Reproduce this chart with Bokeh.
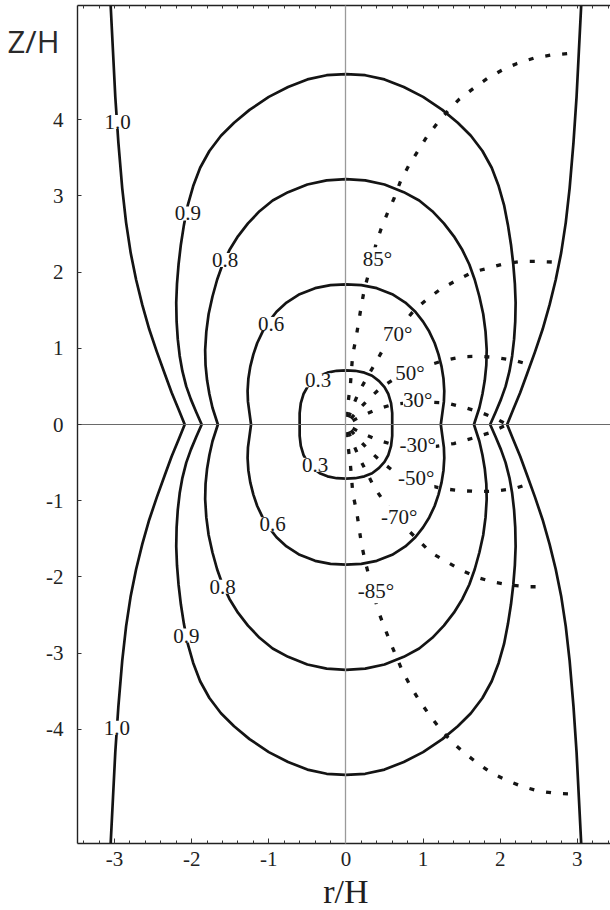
import numpy as np
from bokeh.plotting import figure
from bokeh.models import Label, LinearAxis, FixedTicker, Range1d
from bokeh.embed import file_html
from bokeh.resources import INLINE

# ---- contour data: one quadrant each (r >= 0, z >= 0), from the top (r=0) down to z=0
c03_r = [0.00, 0.12, 0.24, 0.34, 0.43, 0.50, 0.55, 0.585, 0.60, 0.60]
c03_z = [0.71, 0.705, 0.68, 0.64, 0.57, 0.49, 0.40, 0.28, 0.15, 0.00]

c06_r = [0.00, 0.20, 0.40, 0.60, 0.77, 0.90, 1.00, 1.08, 1.15, 1.20, 1.24, 1.265, 1.275, 1.27, 1.25, 1.23]
c06_z = [1.84, 1.83, 1.79, 1.71, 1.60, 1.48, 1.35, 1.22, 1.07, 0.92, 0.76, 0.60, 0.44, 0.30, 0.15, 0.00]

c08_r = [0.00, 0.25, 0.50, 0.75, 0.95, 1.12, 1.27, 1.40, 1.51, 1.60, 1.67, 1.73, 1.78, 1.81,
         1.825, 1.82, 1.80, 1.77, 1.73, 1.66]
c08_z = [3.22, 3.205, 3.15, 3.05, 2.94, 2.80, 2.64, 2.47, 2.29, 2.10, 1.90, 1.68, 1.45, 1.22,
         0.98, 0.78, 0.58, 0.40, 0.22, 0.00]

c09_r = [0.00, 0.25, 0.50, 0.75, 1.00, 1.25, 1.45, 1.62, 1.77, 1.89, 1.98, 2.05, 2.10, 2.14, 2.17,
         2.19, 2.20, 2.195, 2.18, 2.155, 2.12, 2.07, 2.01, 1.94, 1.87]
c09_z = [4.60, 4.585, 4.53, 4.43, 4.30, 4.13, 3.96, 3.79, 3.59, 3.37, 3.13, 2.88, 2.62, 2.36, 2.10,
         1.85, 1.60, 1.35, 1.12, 0.90, 0.70, 0.50, 0.33, 0.16, 0.00]

# the 1.0 level is open: it leaves through the top and bottom of the frame
c10_r = [3.05, 3.02, 2.99, 2.95, 2.90, 2.85, 2.79, 2.72, 2.64, 2.55, 2.45, 2.35, 2.26, 2.17, 2.09]
c10_z = [5.50, 4.90, 4.30, 3.70, 3.10, 2.65, 2.25, 1.90, 1.57, 1.25, 0.95, 0.67, 0.42, 0.20, 0.00]

# ---- dotted lines labelled by launch angle (right half only), starting just off the origin
a85_r = [0.009, 0.03, 0.06, 0.087, 0.13, 0.20, 0.24, 0.30, 0.39, 0.453, 0.54, 0.625, 0.71, 0.81, 0.92,
         1.045, 1.18, 1.317, 1.47, 1.65, 1.83, 2.02, 2.22, 2.44, 2.66, 2.88]
a85_z = [0.10, 0.30, 0.55, 0.91, 1.13, 1.56, 1.78, 2.00, 2.37, 2.56, 2.78, 2.97, 3.20, 3.39, 3.57,
         3.77, 3.95, 4.11, 4.27, 4.41, 4.54, 4.65, 4.74, 4.81, 4.85, 4.87]
a70_r = [0.034, 0.08, 0.17, 0.28, 0.39, 0.50, 0.62, 0.755, 0.885, 1.06, 1.23, 1.45, 1.64, 1.835, 2.05, 2.27, 2.48, 2.74]
a70_z = [0.094, 0.22, 0.43, 0.63, 0.82, 1.02, 1.19, 1.34, 1.50, 1.65, 1.78, 1.90, 2.00, 2.05, 2.11, 2.14, 2.14, 2.13]
a50_r = [0.064, 0.15, 0.30, 0.45, 0.60, 0.80, 1.08, 1.27, 1.51, 1.73, 1.94, 2.19, 2.40]
a50_z = [0.077, 0.18, 0.34, 0.48, 0.58, 0.68, 0.78, 0.84, 0.89, 0.895, 0.88, 0.84, 0.78]
a30_r = [0.087, 0.20, 0.40, 0.60, 0.85, 1.14, 1.32, 1.55, 1.77, 1.96, 2.05]
a30_z = [0.05, 0.11, 0.20, 0.26, 0.29, 0.29, 0.28, 0.22, 0.15, 0.07, 0.02]
m30_r = [0.087, 0.20, 0.40, 0.60, 0.85, 1.14, 1.40, 1.64, 1.86, 2.05]
m30_z = [-0.05, -0.11, -0.20, -0.26, -0.28, -0.29, -0.25, -0.18, -0.11, -0.02]
m50_r = [0.064, 0.15, 0.30, 0.45, 0.60, 0.80, 1.08, 1.27, 1.51, 1.73, 1.94, 2.19, 2.40]
m50_z = [-0.077, -0.18, -0.34, -0.48, -0.60, -0.70, -0.80, -0.845, -0.87, -0.88, -0.875, -0.84, -0.77]
m70_r = [0.034, 0.08, 0.17, 0.27, 0.36, 0.49, 0.65, 0.80, 0.95, 1.10, 1.32, 1.51, 1.71, 1.92, 2.14, 2.37, 2.61]
m70_z = [-0.094, -0.22, -0.43, -0.63, -0.81, -1.01, -1.21, -1.38, -1.53, -1.68, -1.81, -1.92, -2.01, -2.07,
         -2.11, -2.13, -2.13]
m85_r = [0.009, 0.03, 0.06, 0.09, 0.14, 0.20, 0.25, 0.30, 0.36, 0.41, 0.475, 0.56, 0.65, 0.73, 0.84, 0.95,
         1.08, 1.21, 1.36, 1.52, 1.70, 1.88, 2.08, 2.28, 2.49, 2.71, 2.94]
m85_z = [-0.10, -0.30, -0.55, -0.91, -1.15, -1.56, -1.80, -1.99, -2.22, -2.42, -2.60, -2.82, -3.04, -3.23,
         -3.44, -3.62, -3.81, -3.98, -4.15, -4.30, -4.44, -4.57, -4.67, -4.75, -4.81, -4.84, -4.85]

# ---- label texts and where they sit
level_text = ["1.0", "0.9", "0.8", "0.6", "0.3", "0.3", "0.6", "0.8", "0.9", "1.0"]
level_r = [-2.96, -2.05, -1.565, -0.97, -0.36, -0.40, -0.95, -1.60, -2.07, -2.97]
level_z = [3.97, 2.77, 2.16, 1.32, 0.58, -0.53, -1.31, -2.13, -2.77, -3.98]

angle_text = ["85°", "70°", "50°", "30°", "-30°", "-50°", "-70°", "-85°"]
angle_r = [0.41, 0.67, 0.83, 0.93, 0.93, 0.91, 0.69, 0.39]
angle_z = [2.17, 1.19, 0.67, 0.32, -0.27, -0.70, -1.22, -2.19]

xticks = [-3, -2, -1, 0, 1, 2, 3]
xminor = [round(-3.4 + 0.2 * i, 1) for i in range(35)]
yticks = [-4, -3, -2, -1, 0, 1, 2, 3, 4]

# visible frame, in data units
R_MIN, R_MAX = -3.48, 3.43
Z_MIN, Z_MAX = -5.5, 5.5


def closed_loop(r, z):
    """Mirror a quadrant into a closed curve symmetric in r and z."""
    r = np.asarray(r, float)
    z = np.asarray(z, float)
    xs = np.concatenate([r, r[::-1][1:], -r[1:], -r[::-1][1:]])
    ys = np.concatenate([z, -z[::-1][1:], -z[1:], z[::-1][1:]])
    return xs, ys


def open_branch(r, z):
    """Mirror a quadrant about z=0 into one branch running top to bottom."""
    r = np.asarray(r, float)
    z = np.asarray(z, float)
    return np.concatenate([r, r[::-1][1:]]), np.concatenate([z, -z[::-1][1:]])


# the drawing area fills the canvas; the frame and its ticks are axes pinned
# to the frame edges, leaving room on the left and below for the labels
W, H = 610, 910
left_px, top_px, bottom_px = 77, 5, 67
sx = (W - left_px) / (R_MAX - R_MIN)
sy = (H - top_px - bottom_px) / (Z_MAX - Z_MIN)

p = figure(width=W, height=H,
           x_range=Range1d(R_MIN - left_px / sx, R_MAX),
           y_range=Range1d(Z_MIN - bottom_px / sy, Z_MAX + top_px / sy),
           x_axis_location=None, y_axis_location=None,
           output_backend="svg", toolbar_location=None, min_border=0)
p.background_fill_color = "white"
p.border_fill_color = "white"
p.outline_line_color = None
p.grid.visible = False

serif = "Liberation Serif"
ink = "#141414"


def frame_axis(loc, bounds, ticks, minor):
    ax = LinearAxis(fixed_location=loc, bounds=bounds,
                    ticker=FixedTicker(ticks=ticks, minor_ticks=minor),
                    major_label_overrides={t: str(t) for t in ticks})
    ax.axis_line_color = "#222222"
    ax.axis_line_width = 1.4
    ax.major_tick_line_color = "#333333"
    ax.minor_tick_line_color = "#333333"
    ax.major_tick_in = 5
    ax.major_tick_out = 0
    ax.minor_tick_in = 3
    ax.minor_tick_out = 0
    ax.major_label_text_font = serif
    ax.major_label_text_font_size = "21px"
    ax.major_label_text_color = "#222222"
    return ax


bottom = frame_axis(Z_MIN, (R_MIN, R_MAX), xticks, xminor)
bottom.major_label_standoff = 8
p.add_layout(bottom, "below")

top = frame_axis(Z_MAX, (R_MIN, R_MAX), [], xminor)
p.add_layout(top, "above")

left = frame_axis(R_MIN, (Z_MIN, Z_MAX), yticks, [])
left.major_label_standoff = 14
left.major_tick_in = 4
p.add_layout(left, "left")

# coordinate axes through the origin
vzero = LinearAxis(fixed_location=0, bounds=(Z_MIN, Z_MAX), ticker=FixedTicker(ticks=[], minor_ticks=[]),
                   axis_line_color="#9a9a9a", axis_line_width=1.3,
                   major_tick_line_color=None, minor_tick_line_color=None)
p.add_layout(vzero, "left")
hzero = LinearAxis(fixed_location=0, bounds=(R_MIN, R_MAX), ticker=FixedTicker(ticks=[], minor_ticks=[]),
                   axis_line_color="#6a6a6a", axis_line_width=1.2,
                   major_tick_line_color=None, minor_tick_line_color=None)
p.add_layout(hzero, "below")

# closed contour levels
for r, z in [(c03_r, c03_z), (c06_r, c06_z), (c08_r, c08_z), (c09_r, c09_z)]:
    xs, ys = closed_loop(r, z)
    p.line(xs, ys, line_color=ink, line_width=2.7, line_join="round")

# open 1.0 level, right and left branches
xs, ys = open_branch(c10_r, c10_z)
p.line(xs, ys, line_color=ink, line_width=2.7, line_join="round")
p.line(-xs, ys, line_color=ink, line_width=2.7, line_join="round")

# dotted angle lines
for r, z in [(a85_r, a85_z), (a70_r, a70_z), (a50_r, a50_z), (a30_r, a30_z),
             (m30_r, m30_z), (m50_r, m50_z), (m70_r, m70_z), (m85_r, m85_z)]:
    p.line(r, z, line_color=ink, line_width=3.3, line_dash="5 12")

# labels, each blanking the line underneath
for t, x, y in list(zip(level_text, level_r, level_z)) + list(zip(angle_text, angle_r, angle_z)):
    p.add_layout(Label(x=x, y=y, text=t, text_font=serif, text_font_size="21px",
                       text_color="#1a1a1a", text_align="center", text_baseline="middle",
                       background_fill_color="white", background_fill_alpha=1.0))

# axis titles
p.add_layout(Label(x=-4.05, y=5.04, text="Z/H", text_font="Open Sans", text_font_size="31px",
                   text_color="#2a2a2a", text_align="center", text_baseline="middle"))
p.add_layout(Label(x=0.0, y=-6.13, text="r/H", text_font=serif, text_font_size="34px",
                   text_color="#1e1e1e", text_align="center", text_baseline="middle"))

open("out.html", "w").write(file_html(p, INLINE))
